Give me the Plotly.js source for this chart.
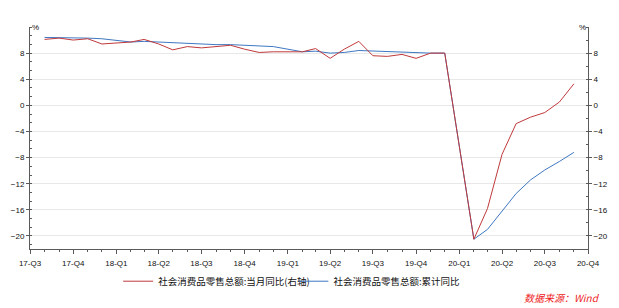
<!DOCTYPE html>
<html>
<head>
<meta charset="utf-8">
<script src="https://cdn.plot.ly/plotly-3.0.1.min.js"></script>
<style>html,body{margin:0;padding:0;background:#fff;}#chart{width:619px;height:308px;}</style>
</head>
<body>
<div id="chart"></div>
<script>
// Months (data dated at first day of month; January has no separate release)
const months = [
  '2017-08-01','2017-09-01','2017-10-01','2017-11-01','2017-12-01',
  '2018-02-01','2018-03-01','2018-04-01','2018-05-01','2018-06-01','2018-07-01','2018-08-01','2018-09-01','2018-10-01','2018-11-01','2018-12-01',
  '2019-02-01','2019-03-01','2019-04-01','2019-05-01','2019-06-01','2019-07-01','2019-08-01','2019-09-01','2019-10-01','2019-11-01','2019-12-01',
  '2020-02-01','2020-03-01','2020-04-01','2020-05-01','2020-06-01','2020-07-01','2020-08-01','2020-09-01'
];
// 社会消费品零售总额:当月同比 (right axis)
const monthlyYoY = [
  10.1, 10.3, 10.0, 10.2, 9.4,
  9.7, 10.1, 9.4, 8.5, 9.0, 8.8, 9.0, 9.2, 8.6, 8.1, 8.2,
  8.2, 8.7, 7.2, 8.6, 9.8, 7.6, 7.5, 7.8, 7.2, 8.0, 8.0,
  -20.5, -15.8, -7.5, -2.8, -1.8, -1.1, 0.5, 3.3
];
// 社会消费品零售总额:累计同比 (left axis)
const cumulativeYoY = [
  10.4, 10.4, 10.3, 10.3, 10.2,
  9.7, 9.8, 9.7, 9.5, 9.4, 9.3, 9.3, 9.3, 9.2, 9.1, 9.0,
  8.2, 8.3, 8.0, 8.1, 8.4, 8.3, 8.2, 8.2, 8.1, 8.0, 8.0,
  -20.5, -19.0, -16.2, -13.5, -11.4, -9.9, -8.6, -7.2
];
const quarterTicks = ['2017-07-01','2017-10-01','2018-01-01','2018-04-01','2018-07-01','2018-10-01','2019-01-01','2019-04-01','2019-07-01','2019-10-01','2020-01-01','2020-04-01','2020-07-01','2020-10-01'];
const quarterLabels = ['17-Q3','17-Q4','18-Q1','18-Q2','18-Q3','18-Q4','19-Q1','19-Q2','19-Q3','19-Q4','20-Q1','20-Q2','20-Q3','20-Q4'];
const yTicks = [-20, -16, -12, -8, -4, 0, 4, 8];
const nameMonthly = '社会消费品零售总额:当月同比(右轴)';
const nameCumulative = '社会消费品零售总额:累计同比';

const axisColor = '#5a5a5a';
const tickFont = {family: 'Liberation Sans, Arial, sans-serif', size: 8, color: '#111'};
const cjk = 'Noto Sans CJK SC, sans-serif';

const traces = [
  {x: months, y: cumulativeYoY, name: nameCumulative, type: 'scatter', mode: 'lines',
   line: {color: '#3f78c2', width: 1}, yaxis: 'y', legend: 'legend2'},
  {x: months, y: monthlyYoY, name: nameMonthly, type: 'scatter', mode: 'lines',
   line: {color: '#c0393b', width: 1}, yaxis: 'y2', legend: 'legend'}
];

const yCommon = {
  range: [-22, 12], tickvals: yTicks, ticks: 'outside', ticklen: 3, tickwidth: 1,
  tickcolor: axisColor, showline: true, linecolor: axisColor, linewidth: 1,
  zeroline: false, tickfont: tickFont, fixedrange: true
};

const layout = {
  width: 619, height: 308,
  margin: {l: 30, r: 31, t: 27, b: 55, pad: 0},
  paper_bgcolor: '#fff', plot_bgcolor: '#fff',
  showlegend: true,
  xaxis: {
    type: 'date', range: ['2017-07-01', '2020-10-01'],
    tickvals: quarterTicks, ticktext: quarterLabels,
    ticks: 'outside', ticklen: 4, tickcolor: axisColor, tickwidth: 1, ticklabelstandoff: 2,
    showline: true, linecolor: axisColor, linewidth: 1, showgrid: false, zeroline: false,
    tickfont: tickFont,
    minor: {dtick: 'M1', tick0: '2017-07-01', ticks: 'outside', ticklen: 2, tickcolor: axisColor, showgrid: false}
  },
  yaxis: Object.assign({}, yCommon, {
    side: 'left', showgrid: true, gridcolor: '#e8e8e8', gridwidth: 1,
    minor: {dtick: 4/3, tick0: 0, ticks: 'inside', ticklen: 2, tickcolor: axisColor, showgrid: false}
  }),
  yaxis2: Object.assign({}, yCommon, {
    side: 'right', overlaying: 'y', showgrid: false,
    minor: {dtick: 2, tick0: 0, ticks: 'inside', ticklen: 2, tickcolor: axisColor, showgrid: false}
  }),
  legend: {orientation: 'h', x: 0.158, xanchor: 'left', y: -0.145, yanchor: 'middle',
           bgcolor: 'rgba(0,0,0,0)', borderwidth: 0, font: {family: cjk, size: 9.5, color: '#111'}},
  legend2: {orientation: 'h', x: 0.472, xanchor: 'left', y: -0.145, yanchor: 'middle',
           bgcolor: 'rgba(0,0,0,0)', borderwidth: 0, font: {family: cjk, size: 9.5, color: '#111'}},
  annotations: [
    {text: '%', xref: 'paper', yref: 'paper', x: 0, y: 1, xanchor: 'left', yanchor: 'middle',
     showarrow: false, font: {family: 'Liberation Sans, Arial, sans-serif', size: 8, color: '#111'}},
    {text: '%', xref: 'paper', yref: 'paper', x: 1, y: 1, xanchor: 'right', yanchor: 'middle',
     showarrow: false, font: {family: 'Liberation Sans, Arial, sans-serif', size: 8, color: '#111'}},
    {text: '数据来源：Wind', xref: 'paper', yref: 'paper', x: 1.025, y: -0.217, xanchor: 'right', yanchor: 'middle',
     showarrow: false, font: {family: cjk, size: 10, color: '#ee1c25', style: 'italic'}}
  ]
};

Plotly.newPlot('chart', traces, layout, {displayModeBar: false, staticPlot: true});
</script>
</body>
</html>
